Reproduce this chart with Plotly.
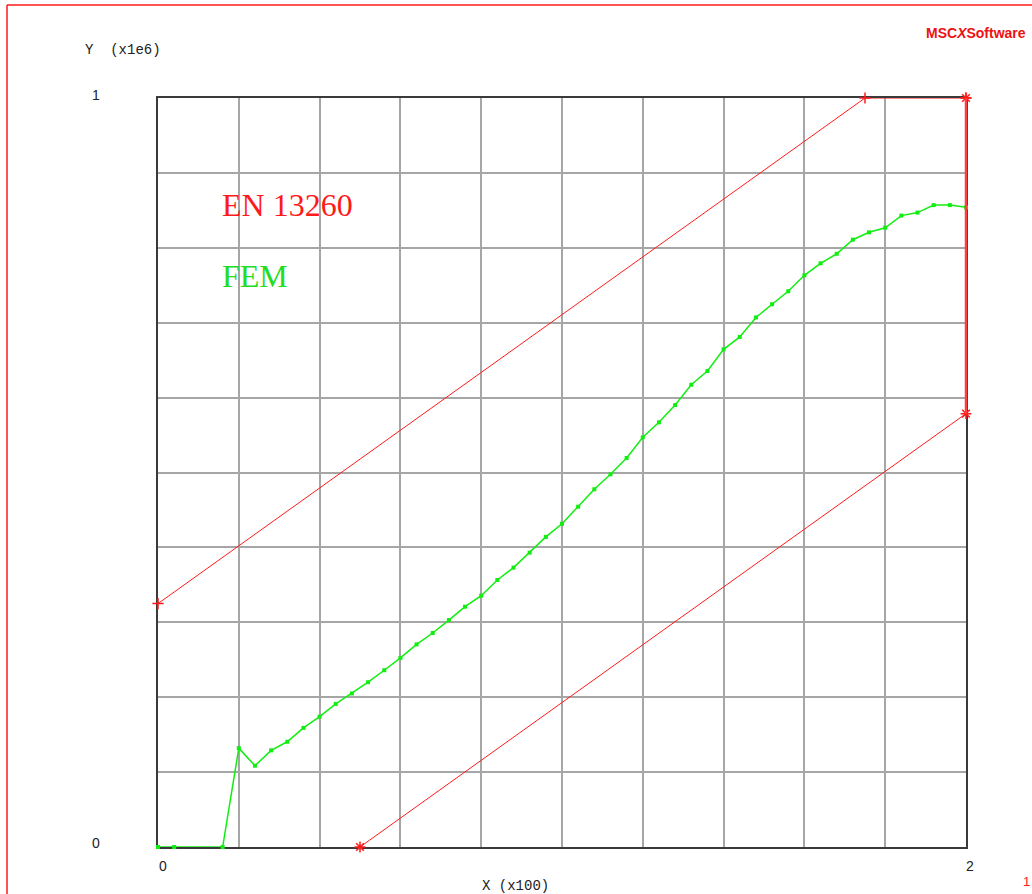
import plotly.graph_objects as go

# FEM result (X in units of 100, Y in units of 1e6)
fem_x = [0.0, 0.04, 0.16, 0.20, 0.24, 0.28, 0.32, 0.36, 0.40, 0.44, 0.48, 0.52,
         0.56, 0.60, 0.64, 0.68, 0.72, 0.76, 0.80, 0.84, 0.88, 0.92, 0.96, 1.00,
         1.04, 1.08, 1.12, 1.16, 1.20, 1.24, 1.28, 1.32, 1.36, 1.40, 1.44, 1.48,
         1.52, 1.56, 1.60, 1.64, 1.68, 1.72, 1.76, 1.80, 1.84, 1.88, 1.92, 1.96, 2.00]
fem_y = [0.0, 0.0, 0.0, 0.132, 0.1085, 0.129, 0.1405, 0.159, 0.174, 0.191, 0.205, 0.220,
         0.236, 0.2525, 0.2705, 0.2857, 0.303, 0.3208, 0.3355, 0.3565, 0.373, 0.393, 0.414, 0.4316,
         0.4543, 0.4776, 0.4976, 0.5194, 0.547, 0.567, 0.590, 0.6172, 0.6355, 0.6645, 0.681, 0.707,
         0.7246, 0.742, 0.7633, 0.7793, 0.792, 0.8108, 0.8207, 0.8268, 0.843, 0.847, 0.857, 0.857, 0.854]

# EN 13260 tolerance band: upper limit and lower limit
upper_x = [0.0, 1.75, 2.0]
upper_y = [0.325, 1.0, 1.0]
lower_x = [2.0, 2.0, 0.5]
lower_y = [1.0, 0.5786, 0.0]

X_RANGE = [0.0, 2.0]
Y_RANGE = [0.0, 1.0]

RED = "#ff1a1a"
GREEN = "#10ee10"

W, H = 1032, 894
L, R, T, B = 158, 966, 98, 847


def px(xp):
    return (xp - L) / (R - L)


def py(yp):
    return (B - yp) / (B - T)


fig = go.Figure()

fig.add_trace(go.Scatter(
    x=upper_x, y=upper_y, mode="lines+markers", cliponaxis=False,
    line=dict(color=RED, width=1),
    marker=dict(symbol="cross-thin", size=8, line=dict(color=RED, width=1.5)),
    showlegend=False, hoverinfo="x+y"))

fig.add_trace(go.Scatter(
    x=lower_x, y=lower_y, mode="lines+markers", cliponaxis=False,
    line=dict(color=RED, width=1),
    marker=dict(symbol="asterisk", size=9, line=dict(color=RED, width=1.5)),
    showlegend=False, hoverinfo="x+y"))

fig.add_trace(go.Scatter(
    x=fem_x, y=fem_y, mode="lines+markers", cliponaxis=False,
    line=dict(color=GREEN, width=1.5),
    marker=dict(symbol="square", size=4, color=GREEN),
    showlegend=False, hoverinfo="x+y"))

axis_common = dict(
    showgrid=True, gridcolor="#a6a6a6", gridwidth=2,
    showline=True, linecolor="#3a3a3a", linewidth=2, mirror=True,
    zeroline=False, showticklabels=False, ticks="",
    layer="below traces", fixedrange=True,
)

fig.update_xaxes(range=X_RANGE, tickmode="linear", tick0=0, dtick=0.2, **axis_common)
fig.update_yaxes(range=Y_RANGE, tickmode="linear", tick0=0, dtick=0.1, **axis_common)

mono = dict(family="Liberation Mono, Courier New, monospace", size=14, color="#222222")
sans = dict(family="Liberation Sans, Arial, sans-serif", size=14, color="#222222")

annotations = [
    dict(x=px(83), y=py(50), text="Y  (x1e6)", font=mono, xanchor="left", yanchor="middle"),
    dict(x=px(480), y=py(886), text="X (x100)", font=mono, xanchor="left", yanchor="middle"),
    dict(x=px(96), y=py(95), text="1", font=sans, xanchor="center", yanchor="middle"),
    dict(x=px(96), y=py(843), text="0", font=sans, xanchor="center", yanchor="middle"),
    dict(x=px(163), y=py(866), text="0", font=sans, xanchor="center", yanchor="middle"),
    dict(x=px(970), y=py(866), text="2", font=sans, xanchor="center", yanchor="middle"),
    dict(x=px(220), y=py(205), text="EN 13260",
         font=dict(family="Liberation Serif, Times New Roman, serif", size=32, color=RED),
         xanchor="left", yanchor="middle"),
    dict(x=px(220), y=py(276), text="FEM",
         font=dict(family="Liberation Serif, Times New Roman, serif", size=32, color="#22dd22"),
         xanchor="left", yanchor="middle"),
    dict(x=px(1028), y=py(33), text="<b>MSC<i>X</i>Software</b>",
         font=dict(family="Liberation Sans, Arial, sans-serif", size=14, color="#ee1111"),
         xanchor="right", yanchor="middle"),
    dict(x=px(1026), y=py(882), text="1",
         font=dict(family="Liberation Sans, Arial, sans-serif", size=13, color=RED),
         xanchor="center", yanchor="middle"),
]
for a in annotations:
    a.update(xref="paper", yref="paper", showarrow=False)

# the vertical limit segment lies on the right frame edge; place it with a
# paper x-reference so it is not clipped away by the plot area
edge_x = (lower_x[0] - X_RANGE[0]) / (X_RANGE[1] - X_RANGE[0])

shapes = [
    dict(type="line", xref="paper", yref="y", layer="above",
         x0=edge_x, y0=lower_y[0], x1=edge_x, y1=lower_y[1],
         line=dict(color="#ff4040", width=2.5)),
    # page frame
    dict(type="line", xref="paper", yref="paper", x0=px(7), x1=px(7), y0=py(5), y1=py(900),
         line=dict(color=RED, width=1.5)),
    dict(type="line", xref="paper", yref="paper", x0=px(7), x1=px(1040), y0=py(5), y1=py(5),
         line=dict(color=RED, width=1.5)),
]

fig.update_layout(
    width=W, height=H,
    margin=dict(l=L, r=W - R, t=T, b=H - B, pad=0),
    paper_bgcolor="white", plot_bgcolor="white",
    annotations=annotations, shapes=shapes,
    showlegend=False,
)

fig.write_html("out.html", config={"displayModeBar": False})
